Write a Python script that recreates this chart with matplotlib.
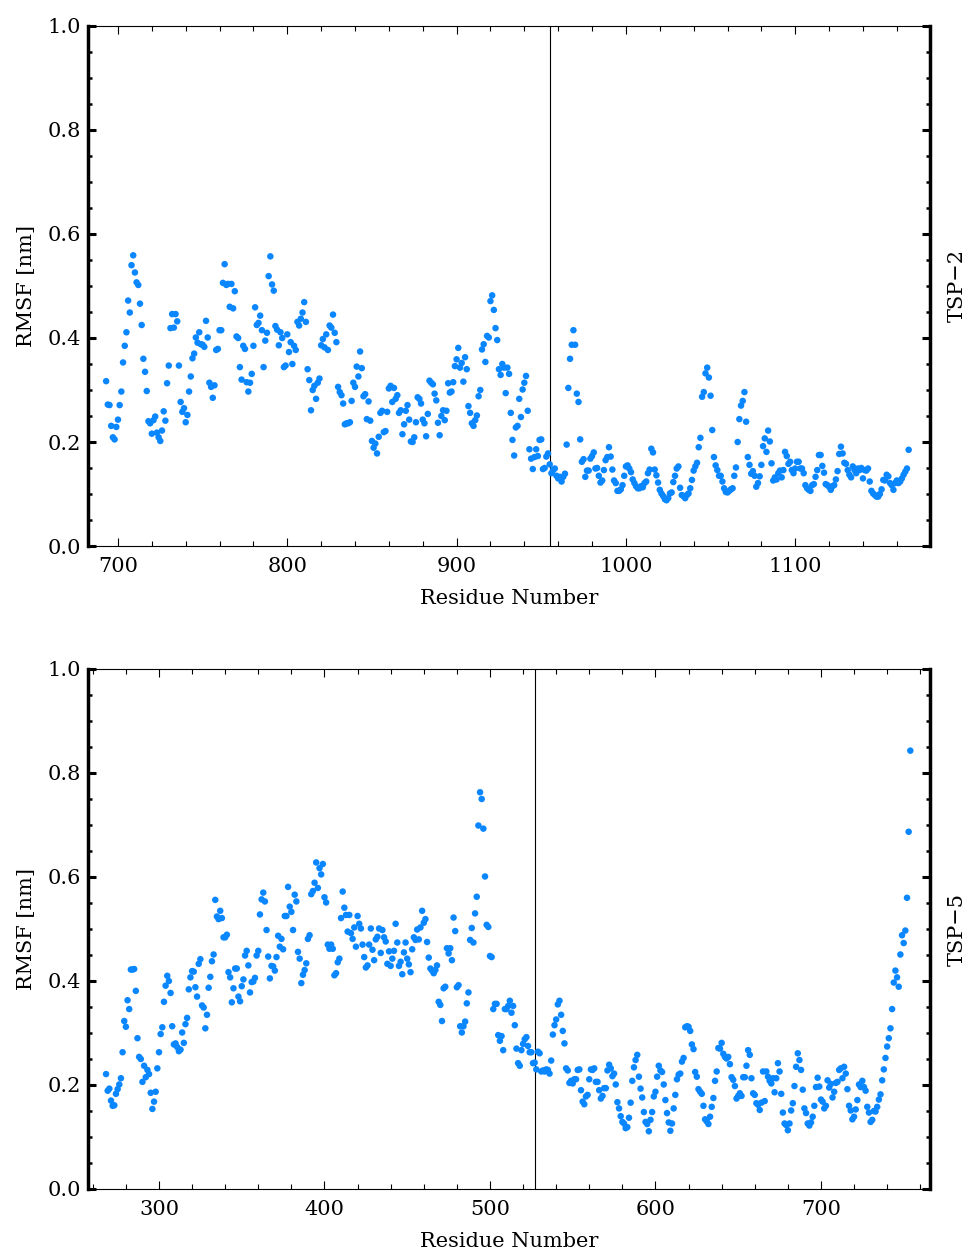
#RMSF par residu pour TSP-2 et TSP-5

import numpy as np
import matplotlib
matplotlib.use("Agg")
import matplotlib.pyplot as plt
from matplotlib.ticker import MultipleLocator, FormatStrFormatter

plt.rcParams['font.family'] = ['DejaVu Serif', 'DejaVu Sans']

##############
#### Data ####
##############

# TSP-2 : premier residu et RMSF (nm)
tsp2_start = 693
tsp2_rmsf = [
    0.317, 0.272, 0.271, 0.231, 0.209, 0.205, 0.229, 0.243, 0.271, 0.297,
    0.353, 0.385, 0.411, 0.472, 0.449, 0.540, 0.559, 0.526, 0.507, 0.502,
    0.466, 0.425, 0.360, 0.335, 0.298, 0.240, 0.236, 0.216, 0.242, 0.249,
    0.218, 0.209, 0.202, 0.222, 0.259, 0.241, 0.313, 0.347, 0.419, 0.446,
    0.420, 0.446, 0.432, 0.347, 0.277, 0.258, 0.265, 0.238, 0.252, 0.297,
    0.326, 0.361, 0.370, 0.401, 0.391, 0.411, 0.388, 0.387, 0.383, 0.433,
    0.401, 0.314, 0.306, 0.285, 0.309, 0.377, 0.379, 0.415, 0.415, 0.506,
    0.542, 0.502, 0.504, 0.460, 0.504, 0.457, 0.490, 0.403, 0.400, 0.344,
    0.320, 0.385, 0.379, 0.315, 0.297, 0.314, 0.331, 0.385, 0.459, 0.425,
    0.429, 0.443, 0.415, 0.344,
    0.395, 0.410, 0.519, 0.557, 0.503, 0.491, 0.423, 0.416, 0.386, 0.411,
    0.400, 0.344, 0.347, 0.407, 0.373, 0.392, 0.350, 0.385, 0.377, 0.431,
    0.424, 0.437, 0.449, 0.469, 0.431, 0.340, 0.319, 0.261, 0.300, 0.308,
    0.283, 0.314, 0.322, 0.386, 0.398, 0.382, 0.407, 0.377, 0.424, 0.420,
    0.445, 0.410, 0.392, 0.306, 0.296, 0.290, 0.274, 0.234, 0.236, 0.236,
    0.238, 0.279, 0.314, 0.306, 0.345, 0.326, 0.374, 0.342, 0.288, 0.292,
    0.244, 0.278, 0.241, 0.202, 0.189, 0.197, 0.178, 0.210, 0.256, 0.260,
    0.219, 0.221, 0.258, 0.303, 0.308, 0.277, 0.304, 0.283, 0.290, 0.256,
    0.261, 0.215, 0.234, 0.260, 0.271, 0.243, 0.201, 0.200, 0.209, 0.238,
    0.286, 0.283, 0.274, 0.243, 0.236, 0.211, 0.254,
    0.318, 0.314, 0.311, 0.293, 0.280, 0.237, 0.213, 0.250, 0.261, 0.242,
    0.260, 0.313, 0.295, 0.297, 0.315, 0.346, 0.359, 0.381, 0.343, 0.352,
    0.316, 0.363, 0.340, 0.269, 0.256, 0.236, 0.231, 0.242, 0.251, 0.288,
    0.300, 0.378, 0.388, 0.354, 0.404, 0.401, 0.471, 0.482, 0.454, 0.419,
    0.396, 0.340, 0.329, 0.350, 0.343, 0.294, 0.343, 0.331, 0.256, 0.204,
    0.174, 0.228, 0.231, 0.283, 0.248, 0.301, 0.314, 0.327, 0.260, 0.186,
    0.168, 0.148, 0.171, 0.186, 0.173, 0.204, 0.205, 0.148, 0.150, 0.172,
    0.178, 0.157, 0.140, 0.146, 0.149, 0.135, 0.130, 0.133, 0.124, 0.133,
    0.139, 0.195, 0.304, 0.360, 0.387, 0.415, 0.387, 0.293, 0.277, 0.205,
    0.162, 0.167, 0.133, 0.145, 0.145, 0.168, 0.173, 0.180, 0.149,
    0.150, 0.135, 0.122, 0.126, 0.146, 0.165, 0.171, 0.190, 0.172, 0.147,
    0.126, 0.121, 0.106, 0.106, 0.109, 0.117, 0.135, 0.153, 0.155, 0.149,
    0.142, 0.128, 0.121, 0.115, 0.111, 0.111, 0.115, 0.113, 0.121, 0.124,
    0.140, 0.147, 0.187, 0.180, 0.147, 0.136, 0.122, 0.108, 0.101, 0.096,
    0.090, 0.088, 0.092, 0.101, 0.103, 0.123, 0.135, 0.149, 0.153, 0.112,
    0.098, 0.096, 0.092, 0.098, 0.101, 0.111, 0.127, 0.145, 0.153, 0.160,
    0.190, 0.208, 0.287, 0.296, 0.332, 0.343, 0.324, 0.289, 0.223, 0.171,
    0.155, 0.146, 0.135, 0.135, 0.124, 0.111, 0.104, 0.103, 0.106, 0.109,
    0.111, 0.135, 0.151, 0.200, 0.244, 0.270, 0.279, 0.296, 0.239, 0.171,
    0.156, 0.139, 0.144, 0.135, 0.114, 0.121, 0.134, 0.156, 0.192,
    0.207, 0.181, 0.222, 0.201, 0.159, 0.126, 0.132, 0.128, 0.140, 0.145,
    0.132, 0.146, 0.181, 0.173, 0.158, 0.162, 0.146, 0.140, 0.149, 0.162,
    0.162, 0.149, 0.149, 0.140, 0.117, 0.111, 0.108, 0.106, 0.117, 0.119,
    0.133, 0.146, 0.175, 0.175, 0.154, 0.141, 0.119, 0.117, 0.114, 0.108,
    0.115, 0.117, 0.128, 0.144, 0.177, 0.191, 0.178, 0.160, 0.158, 0.146,
    0.137, 0.132, 0.153, 0.146, 0.140, 0.149, 0.146, 0.150, 0.130, 0.146,
    0.145, 0.149, 0.124, 0.106, 0.101, 0.098, 0.095, 0.095, 0.100, 0.109,
    0.127, 0.126, 0.137, 0.134, 0.121, 0.117, 0.108, 0.121, 0.126, 0.121,
    0.124, 0.130, 0.137, 0.143, 0.149, 0.185,
]
tsp2_boundary = 955

# TSP-5 : premier residu et RMSF (nm)
tsp5_start = 268
tsp5_rmsf = [
    0.221, 0.189, 0.193, 0.170, 0.160, 0.161, 0.183, 0.192, 0.201, 0.213,
    0.263, 0.323, 0.312, 0.363, 0.346, 0.422, 0.422, 0.423, 0.381, 0.290,
    0.254, 0.250, 0.206, 0.237, 0.215, 0.229, 0.221, 0.185, 0.154, 0.168,
    0.187, 0.232, 0.263, 0.298, 0.311, 0.360, 0.391, 0.410, 0.400, 0.377,
    0.313, 0.278, 0.280, 0.273, 0.265, 0.268, 0.301, 0.281, 0.317, 0.329,
    0.384, 0.407, 0.419, 0.418, 0.388, 0.370, 0.433, 0.442, 0.353, 0.349,
    0.309, 0.335, 0.387, 0.408, 0.438, 0.451, 0.556, 0.524, 0.519, 0.535,
    0.521, 0.484, 0.484, 0.489, 0.417, 0.407, 0.359, 0.386, 0.424, 0.424,
    0.370, 0.361, 0.390, 0.403, 0.449, 0.458, 0.430, 0.378, 0.398, 0.399,
    0.406, 0.449, 0.458, 0.528, 0.557, 0.570,
    0.553, 0.498, 0.447, 0.405, 0.429, 0.428, 0.420, 0.446, 0.487, 0.466,
    0.481, 0.461, 0.525, 0.525, 0.581, 0.543, 0.533, 0.498, 0.566, 0.553,
    0.456, 0.443, 0.396, 0.412, 0.421, 0.434, 0.481, 0.488, 0.567, 0.573,
    0.589, 0.628, 0.579, 0.617, 0.605, 0.625, 0.561, 0.551, 0.470, 0.462,
    0.470, 0.462, 0.411, 0.415, 0.436, 0.443, 0.521, 0.572, 0.541, 0.527,
    0.495, 0.527, 0.492, 0.481, 0.503, 0.466, 0.525, 0.510, 0.501, 0.470,
    0.446, 0.426, 0.430, 0.470, 0.501, 0.460, 0.440, 0.480, 0.485, 0.501,
    0.454, 0.498, 0.484, 0.476, 0.433, 0.457, 0.429, 0.443, 0.458, 0.510,
    0.474, 0.429, 0.437, 0.413, 0.455, 0.474, 0.443, 0.432, 0.417, 0.461,
    0.484, 0.479, 0.499, 0.480, 0.503, 0.535, 0.512, 0.519, 0.475,
    0.445, 0.424, 0.420, 0.415, 0.421, 0.430, 0.360, 0.354, 0.323, 0.386,
    0.389, 0.463, 0.453, 0.463, 0.440, 0.522, 0.496, 0.388, 0.392, 0.313,
    0.301, 0.313, 0.322, 0.357, 0.378, 0.479, 0.502, 0.474, 0.530, 0.562,
    0.699, 0.763, 0.750, 0.693, 0.601, 0.508, 0.504, 0.448, 0.446, 0.346,
    0.356, 0.356, 0.296, 0.285, 0.294, 0.267, 0.346, 0.346, 0.352, 0.362,
    0.339, 0.352, 0.315, 0.270, 0.242, 0.237, 0.267, 0.279, 0.288, 0.292,
    0.275, 0.263, 0.263, 0.242, 0.243, 0.230, 0.264, 0.261, 0.226, 0.228,
    0.226, 0.230, 0.229, 0.222, 0.247, 0.297, 0.315, 0.326, 0.355, 0.362,
    0.335, 0.304, 0.280, 0.232, 0.228, 0.204, 0.208, 0.203, 0.211, 0.211,
    0.229, 0.230, 0.190, 0.168, 0.163, 0.178, 0.181, 0.211, 0.230, 0.229,
    0.232, 0.206,
    0.206, 0.190, 0.174, 0.179, 0.194, 0.194, 0.228, 0.239, 0.232, 0.217,
    0.222, 0.201, 0.167, 0.155, 0.140, 0.129, 0.126, 0.117, 0.119, 0.137,
    0.166, 0.208, 0.234, 0.248, 0.258, 0.216, 0.193, 0.176, 0.148, 0.129,
    0.125, 0.111, 0.133, 0.148, 0.178, 0.187, 0.216, 0.237, 0.228, 0.225,
    0.201, 0.171, 0.146, 0.128, 0.112, 0.126, 0.155, 0.181, 0.211, 0.220,
    0.222, 0.245, 0.252, 0.311, 0.313, 0.312, 0.304, 0.278, 0.269, 0.225,
    0.216, 0.192, 0.187, 0.183, 0.160, 0.134, 0.130, 0.125, 0.139, 0.158,
    0.175, 0.208, 0.226, 0.271, 0.270, 0.281, 0.260, 0.254, 0.251, 0.254,
    0.240, 0.215, 0.210, 0.198, 0.174, 0.179, 0.184, 0.179, 0.215, 0.215,
    0.237, 0.267, 0.258, 0.213, 0.184, 0.181, 0.165, 0.162, 0.152, 0.166,
    0.226,
    0.169, 0.226, 0.216, 0.208, 0.203, 0.213, 0.186, 0.213, 0.242, 0.226,
    0.183, 0.147, 0.126, 0.123, 0.113, 0.126, 0.151, 0.165, 0.198, 0.235,
    0.261, 0.248, 0.229, 0.191, 0.155, 0.146, 0.126, 0.122, 0.128, 0.139,
    0.160, 0.196, 0.214, 0.197, 0.172, 0.168, 0.155, 0.160, 0.209, 0.195,
    0.202, 0.176, 0.187, 0.204, 0.206, 0.229, 0.232, 0.213, 0.235, 0.222,
    0.192, 0.160, 0.151, 0.134, 0.139, 0.153, 0.171, 0.201, 0.196, 0.208,
    0.196, 0.189, 0.158, 0.147, 0.129, 0.133, 0.150, 0.149, 0.158, 0.172,
    0.182, 0.209, 0.230, 0.252, 0.274, 0.290, 0.309, 0.346, 0.397, 0.420,
    0.407, 0.389, 0.451, 0.488, 0.473, 0.497, 0.560, 0.687, 0.843,
]
tsp5_boundary = 527

###############
#### Plot ####
##############

blue = '#0a86ff'

fig = plt.figure(figsize=(9.7, 12.55), dpi=100)
ax_top = fig.add_axes([88/970, 1 - 546/1255, 842/970, 520/1255])
ax_bot = fig.add_axes([88/970, 1 - 1189/1255, 842/970, 520/1255])

panels = [
    (ax_top, tsp2_start, tsp2_rmsf, tsp2_boundary, (682.3, 1179.6), "TSP\u22122"),
    (ax_bot, tsp5_start, tsp5_rmsf, tsp5_boundary, (257.1, 765.9), "TSP\u22125"),
]

for ax, start, rmsf, boundary, xlim, name in panels:
    residues = np.arange(start, start + len(rmsf))
    ax.scatter(residues, rmsf, s=22, color=blue, edgecolors='none', zorder=3)
    ax.axvline(boundary, color='black', lw=0.8, zorder=2)

    ax.set_xlim(*xlim)
    ax.set_ylim(0, 1.0)

    ax.xaxis.set_major_locator(MultipleLocator(100))
    ax.xaxis.set_minor_locator(MultipleLocator(20))
    ax.yaxis.set_major_locator(MultipleLocator(0.2))
    ax.yaxis.set_minor_locator(MultipleLocator(0.05))
    ax.yaxis.set_major_formatter(FormatStrFormatter('%.1f'))

    # cadre : gauche/droite epais, haut/bas fins
    for side in ['left', 'right']:
        ax.spines[side].set_linewidth(2.5)
    for side in ['top', 'bottom']:
        ax.spines[side].set_linewidth(0.8)

    ax.tick_params(axis='x', which='both', direction='in', top=True, bottom=True,
                   width=0.8, labelsize=15, pad=8)
    ax.tick_params(axis='x', which='major', length=6)
    ax.tick_params(axis='x', which='minor', length=3.5)
    ax.tick_params(axis='y', which='both', direction='in', left=True, right=True,
                   labelsize=15, pad=5)
    ax.tick_params(axis='y', which='major', length=5.5, width=2.2)
    ax.tick_params(axis='y', which='minor', length=3, width=1.8)

    ax.set_xlabel("Residue Number", fontsize=15)
    ax.set_ylabel("RMSF [nm]", fontsize=15)
    ax.xaxis.set_label_coords(0.5, -0.083)
    ax.yaxis.set_label_coords(-0.062, 0.5)
    ax.text(1.032, 0.5, name, rotation=90, ha='center', va='center',
            fontsize=15, transform=ax.transAxes)

plt.savefig("out.png", dpi=100)
plt.close()
